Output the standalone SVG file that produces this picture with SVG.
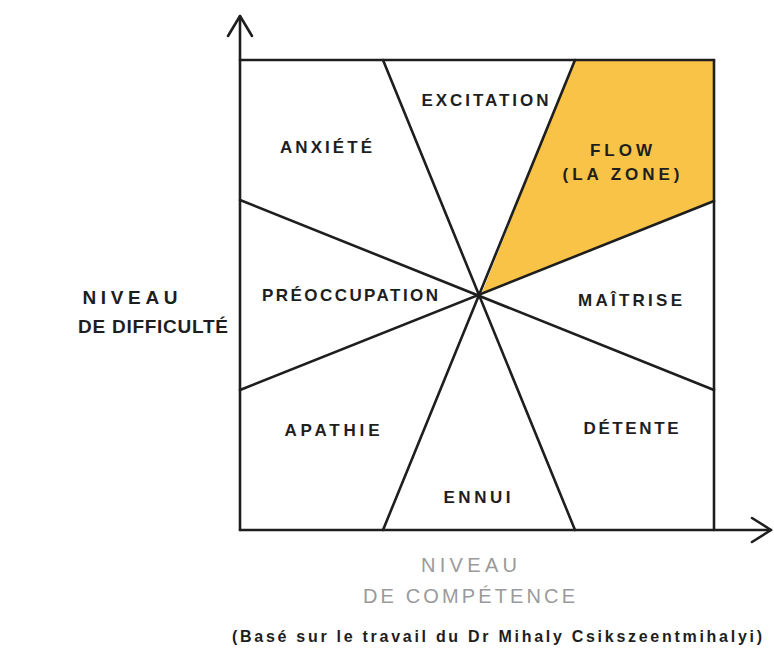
<svg xmlns="http://www.w3.org/2000/svg" width="774" height="657" viewBox="0 0 774 657">
<style>
.ln{stroke:#1e1e1e;stroke-width:2.6;fill:none;stroke-linecap:round;stroke-linejoin:round}
.t{font-family:"Liberation Sans",Arial,sans-serif;font-size:17px;fill:#1e1e1e;text-anchor:middle;dominant-baseline:central;font-weight:bold}
.g{fill:#9a9a9a;font-weight:normal;font-size:20px}
.c{font-family:"Liberation Sans",Arial,sans-serif;font-size:16px;fill:#1e1e1e;text-anchor:middle;dominant-baseline:central;font-weight:bold}
</style>
<rect width="774" height="657" fill="#fff"/>
<g id="flow-zone">
<polygon points="575,60 714,60 714,201 481,295" fill="#F8C347"/>
</g>
<g id="connectors">
<line class="ln" x1="240" y1="60" x2="714" y2="60"/>
<line class="ln" x1="714" y1="60" x2="714" y2="530"/>
<line class="ln" x1="240" y1="530" x2="240" y2="16"/>
<polyline class="ln" points="228,36 240,16 252,36"/>
<line class="ln" x1="240" y1="530" x2="771" y2="530"/>
<polyline class="ln" points="752,518 771,530 752,542"/>
<line class="ln" x1="383" y1="60" x2="575" y2="530"/>
<line class="ln" x1="575" y1="60" x2="383" y2="530"/>
<line class="ln" x1="240" y1="200" x2="714" y2="390"/>
<line class="ln" x1="240" y1="390" x2="714" y2="201"/>
</g>
<g id="excitation"><text class="t" x="485" y="100" textLength="127" lengthAdjust="spacing">EXCITATION</text></g>
<g id="anxiete"><text class="t" x="326" y="147" textLength="92" lengthAdjust="spacing">ANXIÉTÉ</text></g>
<g id="flow"><text class="t" x="621" y="150" textLength="62" lengthAdjust="spacing">FLOW</text><text class="t" x="621" y="174" textLength="117" lengthAdjust="spacing">(LA ZONE)</text></g>
<g id="preoccupation"><text class="t" x="350" y="295" textLength="176" lengthAdjust="spacing">PRÉOCCUPATION</text></g>
<g id="maitrise"><text class="t" x="630" y="300" textLength="104" lengthAdjust="spacing">MAÎTRISE</text></g>
<g id="apathie"><text class="t" x="332" y="430" textLength="95" lengthAdjust="spacing">APATHIE</text></g>
<g id="detente"><text class="t" x="631" y="428" textLength="95" lengthAdjust="spacing">DÉTENTE</text></g>
<g id="ennui"><text class="t" x="477" y="497" textLength="67" lengthAdjust="spacing">ENNUI</text></g>
<g id="y-label"><text class="t" x="130" y="297" textLength="95" lengthAdjust="spacing" style="font-size:19px">NIVEAU</text><text class="t" x="153" y="326" textLength="150" lengthAdjust="spacing" style="font-size:19px">DE DIFFICULTÉ</text></g>
<g id="x-label"><text class="t g" x="469" y="565" textLength="96" lengthAdjust="spacing">NIVEAU</text><text class="t g" x="469" y="596" textLength="212" lengthAdjust="spacing">DE COMPÉTENCE</text></g>
<g id="credit"><text class="c" x="497" y="636" textLength="530" lengthAdjust="spacing">(Basé sur le travail du Dr Mihaly Csikszeentmihalyi)</text></g>
</svg>
